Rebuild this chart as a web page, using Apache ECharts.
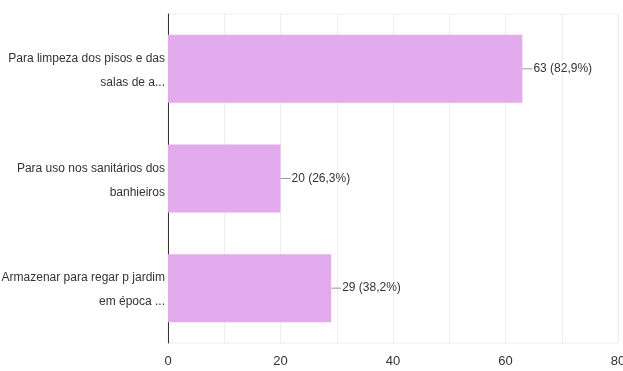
<!DOCTYPE html>
<html lang="pt">
<head>
  <meta charset="UTF-8" />
  <title>Uso da água</title>
  <script src="https://cdn.jsdelivr.net/npm/echarts@6/dist/echarts.min.js"></script>
  <style>
    html, body { margin: 0; padding: 0; background: #fff; }
    #chart { width: 623px; height: 371px; }
  </style>
</head>
<body>
  <div id="chart"></div>
  <script>
    const categories = [
      'Para limpeza dos pisos e das\nsalas de a...',
      'Para uso nos sanitários dos\nbanhieiros',
      'Armazenar para regar p jardim\nem época ...'
    ];
    const counts = [63, 20, 29];
    const percents = ['82,9%', '26,3%', '38,2%'];

    const font = '"Liberation Sans Narrow", "Arial Narrow", "Liberation Sans", Arial, sans-serif';
    const chart = echarts.init(document.getElementById('chart'));

    chart.setOption({
      animation: false,
      grid: {
        left: 168, right: 5, top: 14, bottom: 28,
        containLabel: false,
        outerBoundsMode: 'none',
        show: true, borderColor: '#eeeeee', borderWidth: 1
      },
      xAxis: {
        type: 'value',
        min: 0, max: 80, interval: 20,
        axisLine: { show: false },
        axisTick: { show: false },
        axisLabel: { color: '#333', fontFamily: font, fontSize: 13, margin: 12 },
        splitLine: { lineStyle: { color: '#eeeeee' } },
        minorTick: { show: false, splitNumber: 2 },
        minorSplitLine: { show: true, lineStyle: { color: '#eeeeee' } }
      },
      yAxis: {
        type: 'category',
        inverse: true,
        data: categories,
        axisLine: { lineStyle: { color: '#333', width: 1 } },
        axisTick: { show: false },
        axisLabel: {
          margin: 3, align: 'right',
          formatter: v => {
            const lines = v.split('\n');
            return '{p|' + lines[0] + '}\n{a|' + lines[1] + '}';
          },
          rich: {
            p: { color: '#333', fontFamily: font, fontSize: 12, lineHeight: 28, padding: [8, 0, 0, 0], align: 'right' },
            a: { color: '#333', fontFamily: font, fontSize: 12, lineHeight: 28, align: 'right' }
          }
        }
      },
      series: [{
        type: 'bar',
        data: counts,
        barCategoryGap: '38%',
        itemStyle: { color: '#e4aaee' },
        label: {
          show: true,
          position: 'right',
          distance: 0,
          formatter: p => '{l|}{v|' + p.value + ' (' + percents[p.dataIndex] + ')}',
          rich: {
            l: { width: 10, height: 1, backgroundColor: '#999' },
            v: { color: '#333', fontFamily: font, fontSize: 12, padding: [0, 0, 0, 1] }
          }
        }
      }]
    });
  </script>
</body>
</html>
